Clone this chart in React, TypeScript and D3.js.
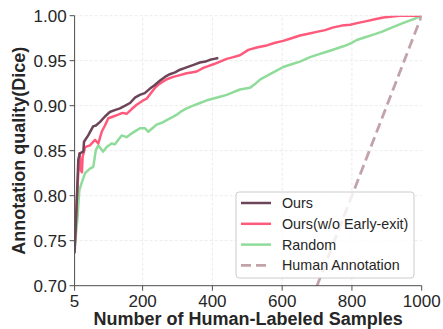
import React from "react";
import { scaleLinear, line } from "d3";

// values: [samples, dice]
const ours: [number, number][] = [
  [5, 0.736], [9, 0.773], [12.8, 0.81], [15.6, 0.84], [20, 0.847], [30, 0.849],
  [32, 0.86], [44, 0.867], [58, 0.877], [66, 0.878], [78, 0.882], [92, 0.888],
  [106, 0.893], [120, 0.895], [135, 0.897], [150, 0.9], [164, 0.903], [178, 0.909],
  [192, 0.912], [206, 0.914], [221, 0.919], [235, 0.923], [250, 0.928], [264, 0.932],
  [278, 0.935], [293, 0.937], [307, 0.94], [322, 0.942], [336, 0.944], [350, 0.946],
  [364, 0.948], [380, 0.949], [393, 0.951], [405, 0.952], [417, 0.953],
];

const oursNoExit: [number, number][] = [
  [5, 0.74], [11, 0.792], [18.5, 0.847], [21, 0.84], [23.4, 0.828], [26, 0.826],
  [28, 0.843], [35, 0.854], [49, 0.856], [63.5, 0.862], [73, 0.858], [82.7, 0.871],
  [92, 0.878], [101.7, 0.886], [116, 0.888], [130, 0.89], [142, 0.892], [154, 0.891],
  [168, 0.896], [183, 0.901], [198, 0.905], [212, 0.908], [224, 0.914], [235.5, 0.92],
  [247, 0.924], [259, 0.927], [273, 0.93], [288, 0.932], [307, 0.934], [326, 0.936],
  [340, 0.937], [355, 0.938], [374, 0.942], [388, 0.944], [403, 0.946], [422, 0.949],
  [441, 0.952], [460, 0.954], [479, 0.956], [503, 0.962], [530, 0.965], [556, 0.967],
  [580, 0.97], [603, 0.972], [627, 0.975], [651, 0.978], [675, 0.98], [699, 0.982],
  [723, 0.984], [747, 0.987], [771, 0.989], [795, 0.99], [818, 0.992], [842, 0.994],
  [866, 0.996], [890, 0.998], [915, 0.999], [938, 1.0], [970, 1.0], [1000, 1.0],
];

const random: [number, number][] = [
  [5, 0.743], [12.8, 0.773], [18.5, 0.806], [25, 0.814], [35, 0.825], [49, 0.83],
  [58.6, 0.832], [66, 0.851], [73, 0.856], [82.7, 0.851], [87, 0.849], [97, 0.854],
  [111, 0.858], [120, 0.857], [130, 0.862], [140, 0.867], [154, 0.865], [168, 0.869],
  [180, 0.872], [192.5, 0.875], [207, 0.875], [216, 0.871], [228, 0.875], [240, 0.879],
  [255, 0.881], [269, 0.884], [284, 0.887], [298, 0.89], [312, 0.894], [326, 0.897],
  [345, 0.9], [364.5, 0.903], [384, 0.906], [403, 0.908], [422, 0.91], [441, 0.912],
  [460, 0.915], [479, 0.918], [508, 0.92], [522, 0.924], [536.5, 0.929], [565, 0.935],
  [584, 0.939], [603, 0.943], [627, 0.946], [651, 0.949], [680, 0.954], [704, 0.957],
  [728, 0.96], [752, 0.963], [775.5, 0.966], [795, 0.969], [814, 0.973], [838, 0.976],
  [861.5, 0.979], [885, 0.982], [909, 0.986], [928, 0.989], [947.5, 0.992], [975, 0.996],
  [1000, 1.0],
];

const human: [number, number][] = [
  [0, 0], [1000, 1.0],
];

const xTicks = [5, 200, 400, 600, 800, 1000];
const yTicks = [0.7, 0.75, 0.8, 0.85, 0.9, 0.95, 1.0];

const series = [
  { name: "Ours", data: ours, color: "#6c4559", dash: "" },
  { name: "Ours(w/o Early-exit)", data: oursNoExit, color: "#ff5a7b", dash: "" },
  { name: "Random", data: random, color: "#8fdc9a", dash: "" },
  { name: "Human Annotation", data: human, color: "#c2a3aa", dash: "10,5" },
];

const width = 443;
const height = 329;
const margin = { top: 15.7, right: 21.3, bottom: 43.3, left: 74.6 };
const font = "'Liberation Sans', Arial, Helvetica, sans-serif";

const App = () => {
  const x = scaleLinear().domain([5, 1000]).range([margin.left, width - margin.right]);
  const y = scaleLinear().domain([0.7, 1.0]).range([height - margin.bottom, margin.top]);
  const path = line<[number, number]>()
    .x((d) => x(d[0]))
    .y((d) => y(d[1]));

  const x0 = margin.left;
  const x1 = width - margin.right;
  const y0 = height - margin.bottom;
  const y1 = margin.top;

  // draw order: human on top like matplotlib's plot order reversed doesn't matter much
  const drawOrder = [series[2], series[1], series[0], series[3]];

  const legendX = 236;
  const legendY = 192;

  return (
    <svg
      width={width}
      height={height}
      style={{ position: "absolute", left: 0, top: 0, background: "#fff" }}
      fontFamily={font}
    >
      <defs>
        <clipPath id="plot">
          <rect x={x0} y={y1} width={x1 - x0} height={y0 - y1} />
        </clipPath>
      </defs>

      {/* grid */}
      <g stroke="#e6e6e6" strokeWidth={0.8} strokeDasharray="3,2">
        {xTicks.slice(1, -1).map((t) => (
          <line key={"gx" + t} x1={x(t)} x2={x(t)} y1={y0} y2={y1} />
        ))}
        {yTicks.slice(1).map((t) => (
          <line key={"gy" + t} x1={x0} x2={x1} y1={y(t)} y2={y(t)} />
        ))}
      </g>

      {/* lines */}
      <g clipPath="url(#plot)" fill="none">
        {drawOrder.map((s) => (
          <path
            key={s.name}
            d={path(s.data) || ""}
            stroke={s.color}
            strokeWidth={s.dash ? 2.8 : 2.5}
            strokeDasharray={s.dash || undefined}
            strokeLinejoin="round"
          />
        ))}
      </g>

      {/* axes */}
      <g stroke="#4d4d4d" strokeWidth={1}>
        <line x1={x0} x2={x0} y1={y1} y2={y0} />
        <line x1={x0} x2={x1} y1={y0} y2={y0} />
        {xTicks.map((t) => (
          <line key={"tx" + t} x1={x(t)} x2={x(t)} y1={y0} y2={y0 + 5} />
        ))}
        {yTicks.map((t) => (
          <line key={"ty" + t} x1={x0 - 5} x2={x0} y1={y(t)} y2={y(t)} />
        ))}
      </g>
      <g fill="#262626" fontSize={17}>
        {xTicks.map((t) => (
          <text key={"lx" + t} x={x(t)} y={y0 + 21} textAnchor="middle">
            {t}
          </text>
        ))}
        {yTicks.map((t) => (
          <text key={"ly" + t} x={x0 - 8} y={y(t)} dy="0.35em" textAnchor="end">
            {t.toFixed(2)}
          </text>
        ))}
      </g>
      <text
        x={(x0 + x1) / 2}
        y={325}
        textAnchor="middle"
        fontSize={18}
        fontWeight="bold"
        fill="#262626"
      >
        Number of Human-Labeled Samples
      </text>
      <text
        transform={`translate(25,${(y0 + y1) / 2}) rotate(-90)`}
        textAnchor="middle"
        fontSize={18}
        fontWeight="bold"
        fill="#262626"
      >
        Annotation quality(Dice)
      </text>

      {/* legend */}
      <g>
        <rect
          x={legendX}
          y={legendY}
          width={178}
          height={86}
          rx={3}
          fill="#fff"
          fillOpacity={0.8}
          stroke="#cccccc"
          strokeWidth={1}
        />
        {series.map((s, i) => {
          const cy = legendY + 11 + i * 20.8;
          return (
            <g key={"lg" + s.name}>
              <line
                x1={legendX + 5}
                x2={legendX + 35}
                y1={cy}
                y2={cy}
                stroke={s.color}
                strokeWidth={s.dash ? 2.8 : 2.5}
                strokeDasharray={s.dash || undefined}
              />
              <text x={legendX + 46} y={cy} dy="0.35em" fontSize={14.3} fill="#262626">
                {s.name}
              </text>
            </g>
          );
        })}
      </g>
    </svg>
  );
};

export default App;
